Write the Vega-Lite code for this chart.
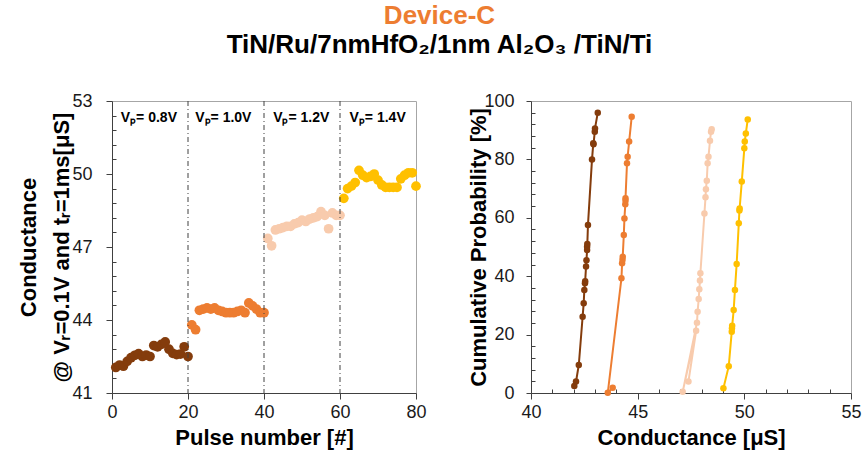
{
  "$schema": "https://vega.github.io/schema/vega-lite/v6.json",
  "padding": {"left": 17, "top": 2, "right": 10, "bottom": 5},
  "config": {
    "font": "Liberation Sans",
    "view": {"stroke": "#a6a6a6", "strokeWidth": 1},
    "axis": {
      "grid": false,
      "domainColor": "#404040",
      "tickColor": "#404040",
      "labelColor": "#1a1a1a",
      "labelFontSize": 18,
      "labelFont": "Liberation Sans",
      "labelFlush": false,
      "labelOverlap": false,
      "titleFont": "Liberation Sans",
      "titleFontSize": 22,
      "titleFontWeight": "bold",
      "titleColor": "#000000"
    }
  },
  "title": {
    "text": "Device-C",
    "subtitle": "TiN/Ru/7nmHfO₂/1nm Al₂O₃ /TiN/Ti",
    "anchor": "middle",
    "fontSize": 26,
    "fontWeight": "bold",
    "color": "#ED7D31",
    "subtitleFontSize": 26,
    "subtitleColor": "#000000",
    "subtitleFontWeight": "bold",
    "subtitlePadding": 3,
    "offset": 34
  },
  "datasets": {
    "pulses": [
      {"pulse": 1, "g": 42.05, "s": "0.8"}, {"pulse": 2, "g": 42.15, "s": "0.8"}, {"pulse": 3, "g": 42.1, "s": "0.8"}, {"pulse": 4, "g": 42.3, "s": "0.8"}, {"pulse": 5, "g": 42.45, "s": "0.8"},
      {"pulse": 6, "g": 42.55, "s": "0.8"}, {"pulse": 7, "g": 42.62, "s": "0.8"}, {"pulse": 8, "g": 42.5, "s": "0.8"}, {"pulse": 9, "g": 42.56, "s": "0.8"}, {"pulse": 10, "g": 42.5, "s": "0.8"},
      {"pulse": 11, "g": 42.95, "s": "0.8"}, {"pulse": 12, "g": 42.9, "s": "0.8"}, {"pulse": 13, "g": 43.0, "s": "0.8"}, {"pulse": 14, "g": 43.1, "s": "0.8"}, {"pulse": 15, "g": 42.8, "s": "0.8"},
      {"pulse": 16, "g": 42.63, "s": "0.8"}, {"pulse": 17, "g": 42.58, "s": "0.8"}, {"pulse": 18, "g": 42.6, "s": "0.8"}, {"pulse": 19, "g": 42.9, "s": "0.8"}, {"pulse": 20, "g": 42.5, "s": "0.8"},
      {"pulse": 21, "g": 43.8, "s": "1.0"}, {"pulse": 22, "g": 43.6, "s": "1.0"}, {"pulse": 23, "g": 44.4, "s": "1.0"}, {"pulse": 24, "g": 44.45, "s": "1.0"}, {"pulse": 25, "g": 44.5, "s": "1.0"},
      {"pulse": 26, "g": 44.45, "s": "1.0"}, {"pulse": 27, "g": 44.5, "s": "1.0"}, {"pulse": 28, "g": 44.4, "s": "1.0"}, {"pulse": 29, "g": 44.35, "s": "1.0"}, {"pulse": 30, "g": 44.3, "s": "1.0"},
      {"pulse": 31, "g": 44.3, "s": "1.0"}, {"pulse": 32, "g": 44.3, "s": "1.0"}, {"pulse": 33, "g": 44.35, "s": "1.0"}, {"pulse": 34, "g": 44.4, "s": "1.0"}, {"pulse": 35, "g": 44.3, "s": "1.0"},
      {"pulse": 36, "g": 44.7, "s": "1.0"}, {"pulse": 37, "g": 44.58, "s": "1.0"}, {"pulse": 38, "g": 44.45, "s": "1.0"}, {"pulse": 39, "g": 44.3, "s": "1.0"}, {"pulse": 40, "g": 44.3, "s": "1.0"},
      {"pulse": 41, "g": 47.35, "s": "1.2"}, {"pulse": 42, "g": 47.05, "s": "1.2"}, {"pulse": 43, "g": 47.7, "s": "1.2"}, {"pulse": 44, "g": 47.75, "s": "1.2"}, {"pulse": 45, "g": 47.8, "s": "1.2"},
      {"pulse": 46, "g": 47.85, "s": "1.2"}, {"pulse": 47, "g": 47.85, "s": "1.2"}, {"pulse": 48, "g": 47.95, "s": "1.2"}, {"pulse": 49, "g": 48.0, "s": "1.2"}, {"pulse": 50, "g": 48.1, "s": "1.2"},
      {"pulse": 51, "g": 48.05, "s": "1.2"}, {"pulse": 52, "g": 48.15, "s": "1.2"}, {"pulse": 53, "g": 48.2, "s": "1.2"}, {"pulse": 54, "g": 48.25, "s": "1.2"}, {"pulse": 55, "g": 48.45, "s": "1.2"},
      {"pulse": 56, "g": 48.3, "s": "1.2"}, {"pulse": 57, "g": 47.75, "s": "1.2"}, {"pulse": 58, "g": 48.4, "s": "1.2"}, {"pulse": 59, "g": 48.3, "s": "1.2"}, {"pulse": 60, "g": 48.3, "s": "1.2"},
      {"pulse": 61, "g": 49.0, "s": "1.4"}, {"pulse": 62, "g": 49.4, "s": "1.4"}, {"pulse": 63, "g": 49.5, "s": "1.4"}, {"pulse": 64, "g": 49.65, "s": "1.4"}, {"pulse": 65, "g": 50.15, "s": "1.4"},
      {"pulse": 66, "g": 49.95, "s": "1.4"}, {"pulse": 67, "g": 49.85, "s": "1.4"}, {"pulse": 68, "g": 49.9, "s": "1.4"}, {"pulse": 69, "g": 50.0, "s": "1.4"}, {"pulse": 70, "g": 49.75, "s": "1.4"},
      {"pulse": 71, "g": 49.55, "s": "1.4"}, {"pulse": 72, "g": 49.45, "s": "1.4"}, {"pulse": 73, "g": 49.45, "s": "1.4"}, {"pulse": 74, "g": 49.45, "s": "1.4"}, {"pulse": 75, "g": 49.45, "s": "1.4"},
      {"pulse": 76, "g": 49.8, "s": "1.4"}, {"pulse": 77, "g": 49.95, "s": "1.4"}, {"pulse": 78, "g": 50.05, "s": "1.4"}, {"pulse": 79, "g": 50.05, "s": "1.4"}, {"pulse": 80, "g": 49.5, "s": "1.4"}
    ],
    "cdf": [
      {"s": "0.8", "ord": 1, "g": 42.03, "p": 2.4}, {"s": "0.8", "ord": 2, "g": 42.11, "p": 3.9}, {"s": "0.8", "ord": 3, "g": 42.24, "p": 9.6}, {"s": "0.8", "ord": 4, "g": 42.42, "p": 26.1},
      {"s": "0.8", "ord": 5, "g": 42.47, "p": 30.7}, {"s": "0.8", "ord": 6, "g": 42.5, "p": 35.3}, {"s": "0.8", "ord": 7, "g": 42.53, "p": 37.6}, {"s": "0.8", "ord": 8, "g": 42.54, "p": 38.3},
      {"s": "0.8", "ord": 9, "g": 42.58, "p": 43.3}, {"s": "0.8", "ord": 10, "g": 42.6, "p": 45.5}, {"s": "0.8", "ord": 11, "g": 42.63, "p": 49.0}, {"s": "0.8", "ord": 12, "g": 42.63, "p": 50.1},
      {"s": "0.8", "ord": 13, "g": 42.64, "p": 51.0}, {"s": "0.8", "ord": 14, "g": 42.67, "p": 57.5}, {"s": "0.8", "ord": 15, "g": 42.86, "p": 80.0}, {"s": "0.8", "ord": 16, "g": 42.92, "p": 85.5},
      {"s": "0.8", "ord": 17, "g": 42.93, "p": 85.2}, {"s": "0.8", "ord": 18, "g": 42.99, "p": 89.5}, {"s": "0.8", "ord": 19, "g": 43.0, "p": 90.6}, {"s": "0.8", "ord": 20, "g": 43.13, "p": 96.0},
      {"s": "1.0", "ord": 1, "g": 43.83, "p": 1.8}, {"s": "1.0", "ord": 2, "g": 43.6, "p": 0.1}, {"s": "1.0", "ord": 3, "g": 44.24, "p": 39.3}, {"s": "1.0", "ord": 4, "g": 44.27, "p": 44.4},
      {"s": "1.0", "ord": 5, "g": 44.29, "p": 45.6}, {"s": "1.0", "ord": 6, "g": 44.3, "p": 46.7}, {"s": "1.0", "ord": 7, "g": 44.35, "p": 54.1}, {"s": "1.0", "ord": 8, "g": 44.38, "p": 59.8},
      {"s": "1.0", "ord": 9, "g": 44.42, "p": 64.6}, {"s": "1.0", "ord": 10, "g": 44.43, "p": 65.8}, {"s": "1.0", "ord": 11, "g": 44.43, "p": 66.7}, {"s": "1.0", "ord": 12, "g": 44.5, "p": 78.7},
      {"s": "1.0", "ord": 13, "g": 44.53, "p": 80.9}, {"s": "1.0", "ord": 14, "g": 44.6, "p": 86.1}, {"s": "1.0", "ord": 15, "g": 44.72, "p": 94.6},
      {"s": "1.2", "ord": 1, "g": 47.38, "p": 3.9}, {"s": "1.2", "ord": 2, "g": 47.74, "p": 21.3}, {"s": "1.2", "ord": 3, "g": 47.11, "p": 0.4}, {"s": "1.2", "ord": 4, "g": 47.78, "p": 24.1},
      {"s": "1.2", "ord": 5, "g": 47.81, "p": 27.8}, {"s": "1.2", "ord": 6, "g": 47.86, "p": 32.2}, {"s": "1.2", "ord": 7, "g": 47.89, "p": 35.5}, {"s": "1.2", "ord": 8, "g": 47.92, "p": 38.5},
      {"s": "1.2", "ord": 9, "g": 47.94, "p": 41.0}, {"s": "1.2", "ord": 10, "g": 48.13, "p": 61.5}, {"s": "1.2", "ord": 11, "g": 48.18, "p": 67.0}, {"s": "1.2", "ord": 12, "g": 48.2, "p": 69.8},
      {"s": "1.2", "ord": 13, "g": 48.24, "p": 72.7}, {"s": "1.2", "ord": 14, "g": 48.28, "p": 78.7}, {"s": "1.2", "ord": 15, "g": 48.32, "p": 80.9}, {"s": "1.2", "ord": 16, "g": 48.39, "p": 86.4},
      {"s": "1.2", "ord": 17, "g": 48.44, "p": 89.5}, {"s": "1.2", "ord": 18, "g": 48.47, "p": 90.3},
      {"s": "1.4", "ord": 1, "g": 49.02, "p": 1.6}, {"s": "1.4", "ord": 2, "g": 49.27, "p": 9.2}, {"s": "1.4", "ord": 3, "g": 49.41, "p": 21.0}, {"s": "1.4", "ord": 4, "g": 49.42, "p": 22.2},
      {"s": "1.4", "ord": 5, "g": 49.43, "p": 23.0}, {"s": "1.4", "ord": 6, "g": 49.5, "p": 28.4}, {"s": "1.4", "ord": 7, "g": 49.56, "p": 35.3}, {"s": "1.4", "ord": 8, "g": 49.64, "p": 44.2},
      {"s": "1.4", "ord": 9, "g": 49.74, "p": 58.1}, {"s": "1.4", "ord": 10, "g": 49.77, "p": 62.5}, {"s": "1.4", "ord": 11, "g": 49.78, "p": 63.2}, {"s": "1.4", "ord": 12, "g": 49.88, "p": 72.4},
      {"s": "1.4", "ord": 13, "g": 50.0, "p": 83.8}, {"s": "1.4", "ord": 14, "g": 50.02, "p": 86.1}, {"s": "1.4", "ord": 15, "g": 50.07, "p": 88.9}, {"s": "1.4", "ord": 16, "g": 50.16, "p": 93.7}
    ]
  },
  "hconcat": [
    {
      "width": 304,
      "height": 292,
      "layer": [
        {
          "data": {"name": "pulses"},
          "mark": {"type": "circle", "size": 95, "opacity": 1},
          "encoding": {
            "x": {
              "field": "pulse", "type": "quantitative",
              "scale": {"domain": [0, 80], "nice": false},
              "axis": {"title": "Pulse number [#]", "values": [0, 20, 40, 60, 80], "tickSize": 6, "labelPadding": 4, "titlePadding": 6, "labelOverlap": false}
            },
            "y": {
              "field": "g", "type": "quantitative",
              "scale": {"domain": [41, 53], "nice": false, "zero": false},
              "axis": {
                "title": ["Conductance", "@ Vᵣ=0.1V and tᵣ=1ms[μS]"],
                "titleLineHeight": 33,
                "values": [41, 41.6, 42.2, 42.8, 43.4, 44, 44.6, 45.2, 45.8, 46.4, 47, 47.6, 48.2, 48.8, 49.4, 50, 50.6, 51.2, 51.8, 52.4, 53],
                "labelExpr": "indexof([41, 44, 47, 50, 53], datum.value) >= 0 ? format(datum.value, 'd') : ''",
                "tickSize": {"condition": {"test": "indexof([41, 44, 47, 50, 53], datum.value) >= 0", "value": 6}, "value": -4},
                "labelOverlap": false,
                "labelPadding": 14,
                "titlePadding": -2
              }
            },
            "color": {
              "field": "s", "type": "nominal",
              "scale": {"domain": ["0.8", "1.0", "1.2", "1.4"], "range": ["#843C0C", "#ED7D31", "#F8CBAD", "#FFC000"]},
              "legend": null
            }
          }
        },
        {
          "data": {"values": [{"pulse": 20}, {"pulse": 40}, {"pulse": 60}]},
          "mark": {"type": "rule", "color": "#404040", "strokeWidth": 1, "strokeDash": [5, 3, 1, 3]},
          "encoding": {
            "x": {
              "field": "pulse", "type": "quantitative",
              "scale": {"domain": [0, 80], "nice": false},
              "axis": {"title": "Pulse number [#]", "values": [0, 20, 40, 60, 80], "tickSize": 6, "labelPadding": 4, "titlePadding": 6, "labelOverlap": false}
            }
          }
        },
        {
          "data": {"values": [{"pulse": 9.7, "g": 52.3, "t": "Vₚ= 0.8V"}, {"pulse": 29.3, "g": 52.3, "t": "Vₚ= 1.0V"}, {"pulse": 49.8, "g": 52.3, "t": "Vₚ= 1.2V"}, {"pulse": 69.9, "g": 52.3, "t": "Vₚ= 1.4V"}]},
          "mark": {"type": "text", "fontSize": 14, "fontWeight": "bold", "color": "#000000", "font": "Liberation Sans"},
          "encoding": {
            "x": {
              "field": "pulse", "type": "quantitative",
              "scale": {"domain": [0, 80], "nice": false},
              "axis": {"title": "Pulse number [#]", "values": [0, 20, 40, 60, 80], "tickSize": 6, "labelPadding": 4, "titlePadding": 6, "labelOverlap": false}
            },
            "y": {
              "field": "g", "type": "quantitative",
              "scale": {"domain": [41, 53], "nice": false, "zero": false},
              "axis": {
                "title": ["Conductance", "@ Vᵣ=0.1V and tᵣ=1ms[μS]"],
                "titleLineHeight": 33,
                "values": [41, 41.6, 42.2, 42.8, 43.4, 44, 44.6, 45.2, 45.8, 46.4, 47, 47.6, 48.2, 48.8, 49.4, 50, 50.6, 51.2, 51.8, 52.4, 53],
                "labelExpr": "indexof([41, 44, 47, 50, 53], datum.value) >= 0 ? format(datum.value, 'd') : ''",
                "tickSize": {"condition": {"test": "indexof([41, 44, 47, 50, 53], datum.value) >= 0", "value": 6}, "value": -4},
                "labelOverlap": false,
                "labelPadding": 14,
                "titlePadding": -2
              }
            },
            "text": {"field": "t"}
          }
        }
      ]
    },
    {
      "width": 320,
      "height": 292,
      "data": {"name": "cdf"},
      "mark": {"type": "line", "strokeWidth": 2, "point": {"filled": true, "size": 42}},
      "encoding": {
        "x": {
          "field": "g", "type": "quantitative",
          "scale": {"domain": [40, 55], "nice": false, "zero": false},
          "axis": {
            "title": "Conductance [μS]",
            "values": [40, 41, 42, 43, 44, 45, 46, 47, 48, 49, 50, 51, 52, 53, 54, 55],
            "labelExpr": "datum.value % 5 === 0 ? datum.label : ''",
            "tickSize": {"condition": {"test": "datum.value % 5 === 0", "value": 6}, "value": -4},
            "labelOverlap": false,
            "labelPadding": 4,
            "titlePadding": 6
          }
        },
        "y": {
          "field": "p", "type": "quantitative",
          "scale": {"domain": [0, 100], "nice": false},
          "axis": {
            "title": "Cumulative Probability [%]",
            "values": [0, 4, 8, 12, 16, 20, 24, 28, 32, 36, 40, 44, 48, 52, 56, 60, 64, 68, 72, 76, 80, 84, 88, 92, 96, 100],
            "labelExpr": "datum.value % 20 === 0 ? datum.label : ''",
            "tickSize": {"condition": {"test": "datum.value % 20 === 0", "value": 5}, "value": -4},
            "labelOverlap": false,
            "labelPadding": 12,
            "titlePadding": -7
          }
        },
        "color": {"field": "s", "type": "nominal", "legend": null},
        "order": {"field": "ord", "type": "quantitative"}
      }
    }
  ],
  "spacing": 40
}
